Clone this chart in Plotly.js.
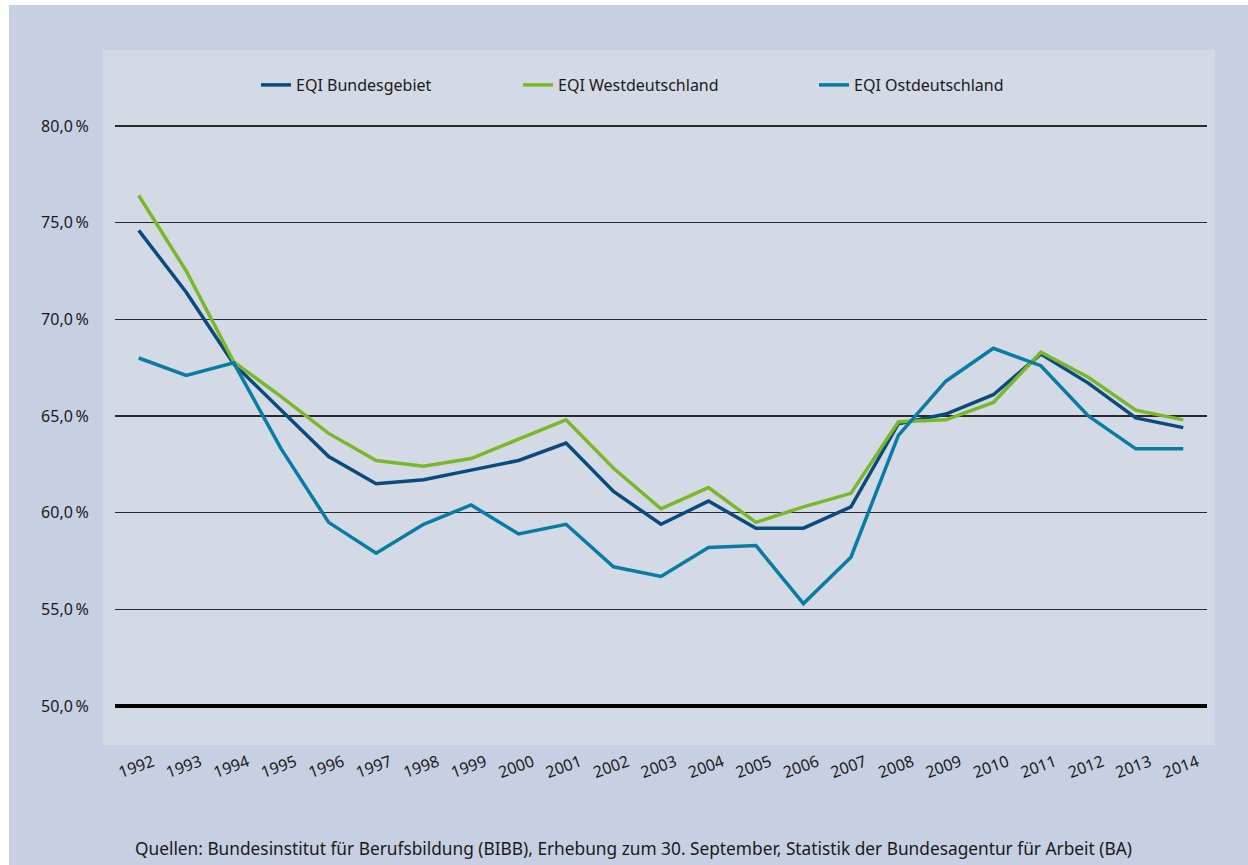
<!DOCTYPE html>
<html><head><meta charset="utf-8">
<script src="https://cdn.plot.ly/plotly-3.0.1.min.js"></script>
<style>
html,body{margin:0;padding:0;background:#ffffff;width:1248px;height:865px;overflow:hidden;}
#outer{position:absolute;left:9px;top:5px;width:1239px;height:860px;background:#c7d0e2;}
#panel{position:absolute;left:103px;top:50px;width:1112px;height:695px;background:#d3dae6;}
#chart{position:absolute;left:0;top:0;width:1248px;height:865px;}
</style></head>
<body>
<div id="outer"></div><div id="panel"></div>
<div id="chart"></div>
<script>
const years = ["1992","1993","1994","1995","1996","1997","1998","1999","2000","2001","2002","2003","2004","2005","2006","2007","2008","2009","2010","2011","2012","2013","2014"];
const bund = [74.6,71.4,67.7,65.3,62.9,61.5,61.7,62.2,62.7,63.6,61.1,59.4,60.6,59.2,59.2,60.3,64.6,65.1,66.1,68.2,66.7,64.9,64.4];
const west = [76.4,72.5,67.8,66.0,64.1,62.7,62.4,62.8,63.8,64.8,62.3,60.2,61.3,59.5,60.3,61.0,64.7,64.8,65.7,68.3,67.0,65.3,64.8];
const ost  = [68.0,67.1,67.75,63.3,59.5,57.9,59.4,60.4,58.9,59.4,57.2,56.7,58.2,58.3,55.3,57.7,64.0,66.8,68.5,67.6,65.0,63.3,63.3];
const names = ["EQI Bundesgebiet","EQI Westdeutschland","EQI Ostdeutschland"];
const colors = ["#0b4a7d","#7ab829","#0a7ba3"];
const yTickVals = [50,55,60,65,70,75,80];
const yTickText = ["50,0\u2009%","55,0\u2009%","60,0\u2009%","65,0\u2009%","70,0\u2009%","75,0\u2009%","80,0\u2009%"];
const source = "Quellen: Bundesinstitut für Berufsbildung (BIBB), Erhebung zum 30. September, Statistik der Bundesagentur für Arbeit (BA)";

const FONT = "Noto Sans, Open Sans, sans-serif";
const series = [bund, west, ost];
const legendKeys = ["legend","legend2","legend3"];
const traces = series.map((s,i)=>({
  x: years, y: s, type:"scatter", mode:"lines", name:names[i],
  line:{color:colors[i], width:3.5}, legend: legendKeys[i], hoverinfo:"skip"
}));

const L=115, R=1207, T=124, B=708;
const px2x = p => (p-L)/(R-L);
const py2y = p => (B-p)/(B-T);
const legendStyle = (x)=>({x:px2x(x), xanchor:"left", y:py2y(85), yanchor:"middle",
  orientation:"h", bgcolor:"rgba(0,0,0,0)", font:{family:FONT,size:16,color:"#1a1a1a"}, itemwidth:30});

const layout = {
  width:1248, height:865,
  paper_bgcolor:"rgba(0,0,0,0)", plot_bgcolor:"rgba(0,0,0,0)",
  margin:{l:L, r:1248-R, t:T, b:865-B},
  showlegend:true,
  legend: legendStyle(256),
  legend2: legendStyle(518),
  legend3: legendStyle(814),
  xaxis:{type:"category", range:[-0.5,22.5], showgrid:false, zeroline:false, showline:false,
    ticks:"outside", ticklen:38, tickcolor:"rgba(0,0,0,0)", tickangle:-20, ticklabelshift:14,
    tickfont:{family:FONT,size:16,color:"#1a1a1a"}},
  yaxis:{range:[49.9,80.1], tickvals:yTickVals, ticktext:yTickText,
    showgrid:true, gridcolor:"#2a2a2a", gridwidth:1.5, zeroline:false, showline:false,
    ticks:"outside", ticklen:22, tickcolor:"rgba(0,0,0,0)",
    tickfont:{family:FONT,size:16,color:"#1a1a1a"}},
  shapes:[{type:"line", xref:"paper", x0:0, x1:1, yref:"y", y0:50, y1:50, line:{color:"#000", width:4}, layer:"above"}],
  annotations:[{text:source, xref:"paper", yref:"paper", x:px2x(633), y:py2y(848), xanchor:"center", yanchor:"middle",
    showarrow:false, font:{family:FONT,size:17.3,color:"#1a1a1a"}}]
};
Plotly.newPlot("chart", traces, layout, {staticPlot:true});
</script>
</body></html>
